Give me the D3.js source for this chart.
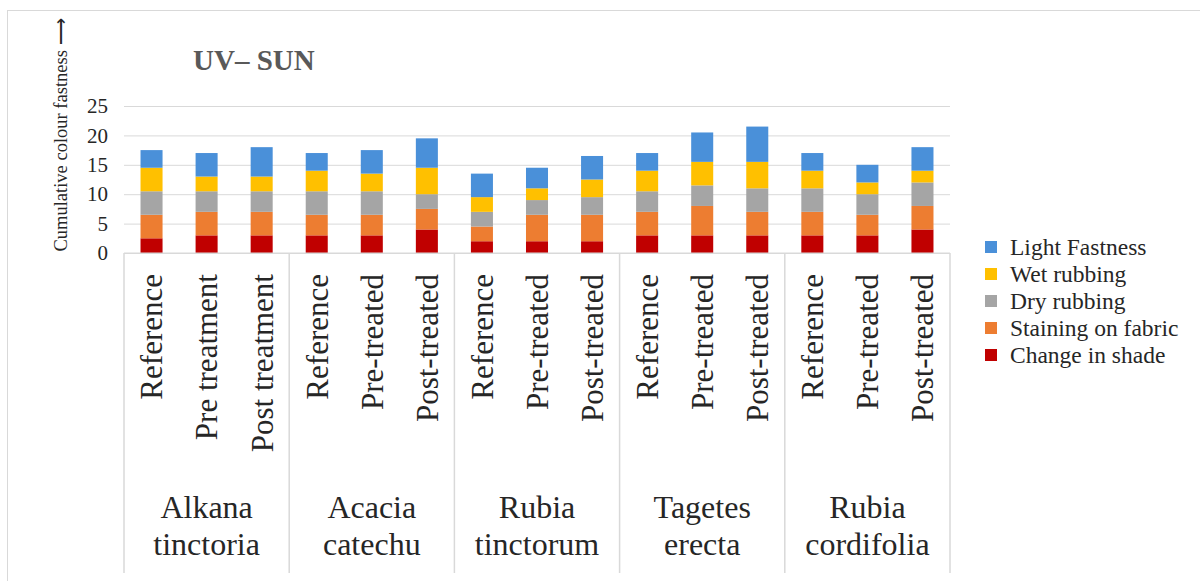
<!DOCTYPE html>
<html>
<head>
<meta charset="utf-8">
<script src="https://cdn.jsdelivr.net/npm/d3@7"></script>
<style>
    body { margin: 0; background: #fff; }
    svg text { font-family: "Liberation Serif", "Times New Roman", serif; }
</style>
</head>
<body>
<div id="chart"></div>
<script>
// data
const groups = ["Alkana tinctoria", "Acacia catechu", "Rubia tinctorum", "Tagetes erecta", "Rubia cordifolia"];
const treatments = [
    ["Reference", "Pre treatment", "Post treatment"],
    ["Reference", "Pre-treated", "Post-treated"],
    ["Reference", "Pre-treated", "Post-treated"],
    ["Reference", "Pre-treated", "Post-treated"],
    ["Reference", "Pre-treated", "Post-treated"],
];
const seriesNames = ["Change in shade", "Staining on fabric", "Dry rubbing", "Wet rubbing", "Light Fastness"];
const seriesColors = ["#c00000", "#ed7d31", "#a5a5a5", "#ffc000", "#4a90d9"];

// one value per bar, in group order
const changeInShade = [2.5, 3, 3, 3, 3, 4, 2, 2, 2, 3, 3, 3, 3, 3, 4];
const stainingOnFabric = [4, 4, 4, 3.5, 3.5, 3.5, 2.5, 4.5, 4.5, 4, 5, 4, 4, 3.5, 4];
const dryRubbing = [4, 3.5, 3.5, 4, 4, 2.5, 2.5, 2.5, 3, 3.5, 3.5, 4, 4, 3.5, 4];
const wetRubbing = [4, 2.5, 2.5, 3.5, 3, 4.5, 2.5, 2, 3, 3.5, 4, 4.5, 3, 2, 2];
const lightFastness = [3, 4, 5, 3, 4, 5, 4, 3.5, 4, 3, 5, 6, 3, 3, 4];

const yTicks = [0, 5, 10, 15, 20, 25];

const width = 1200, height = 581;
const plot = { left: 124, right: 950, top: 106, bottom: 253 };

const svg = d3.select("#chart").append("svg")
    .attr("width", width)
    .attr("height", height);

// outer frame
svg.append("rect")
    .attr("x", 7.5).attr("y", 10.5)
    .attr("width", 1200).attr("height", 600)
    .attr("fill", "none")
    .attr("stroke", "#d9d9d9");

const rows = [];
groups.forEach((g, gi) => {
    treatments[gi].forEach((t, ti) => {
        const i = gi * 3 + ti;
        rows.push({
            group: g, treatment: t,
            "Change in shade": changeInShade[i],
            "Staining on fabric": stainingOnFabric[i],
            "Dry rubbing": dryRubbing[i],
            "Wet rubbing": wetRubbing[i],
            "Light Fastness": lightFastness[i],
        });
    });
});

const x0 = d3.scaleBand().domain(groups).range([plot.left, plot.right]);
const x1 = d3.scaleBand().domain([0, 1, 2]).range([0, x0.bandwidth()]).paddingInner(0.6).paddingOuter(0.3);
const barX = (d) => x0(d.group) + x1(treatments[groups.indexOf(d.group)].indexOf(d.treatment));

const y = d3.scaleLinear().domain([0, 25]).range([plot.bottom, plot.top]);
const color = d3.scaleOrdinal().domain(seriesNames).range(seriesColors);

// gridlines
svg.append("g")
    .attr("transform", `translate(${plot.left},0)`)
    .call(d3.axisLeft(y).tickValues(yTicks).tickSize(-(plot.right - plot.left)).tickFormat(""))
    .call((g) => g.select(".domain").remove())
    .call((g) => g.selectAll("line").attr("stroke", "#d9d9d9"));

// y tick labels
svg.append("g")
    .attr("transform", `translate(${plot.left - 16},0)`)
    .call(d3.axisLeft(y).tickValues(yTicks).tickSize(0).tickPadding(0))
    .call((g) => g.select(".domain").remove())
    .call((g) => g.selectAll("text")
        .attr("font-family", "Liberation Serif")
        .attr("font-size", 21)
        .attr("fill", "#262626"));

// stacked bars
const stacked = d3.stack().keys(seriesNames)(rows);
svg.append("g")
    .selectAll("g")
    .data(stacked)
    .join("g")
    .attr("fill", (s) => color(s.key))
    .selectAll("rect")
    .data((s) => s)
    .join("rect")
    .attr("x", (d) => barX(d.data))
    .attr("y", (d) => y(d[1]))
    .attr("width", x1.bandwidth())
    .attr("height", (d) => y(d[0]) - y(d[1]));

// category separators
const bounds = groups.map((g) => x0(g)).concat([plot.right]);
svg.append("g")
    .selectAll("line")
    .data(bounds)
    .join("line")
    .attr("x1", (d) => d).attr("x2", (d) => d)
    .attr("y1", plot.bottom).attr("y2", 573)
    .attr("stroke", "#d9d9d9")
    .attr("stroke-width", 1.5);

svg.append("line")
    .attr("x1", plot.left).attr("x2", plot.right)
    .attr("y1", plot.bottom).attr("y2", plot.bottom)
    .attr("stroke", "#d9d9d9");

// treatment labels (rotated)
svg.append("g")
    .selectAll("text")
    .data(rows)
    .join("text")
    .attr("transform", (d) => `translate(${barX(d) + x1.bandwidth() / 2},274) rotate(-90)`)
    .attr("text-anchor", "end")
    .attr("dy", "0.35em")
    .attr("font-size", 31)
    .attr("fill", "#262626")
    .text((d) => d.treatment);

// group labels
svg.append("g")
    .selectAll("text")
    .data(groups)
    .join("text")
    .attr("text-anchor", "middle")
    .attr("font-size", 32)
    .attr("fill", "#262626")
    .each(function (g) {
        const words = g.split(" ");
        const t = d3.select(this);
        words.forEach((w, i) => {
            t.append("tspan")
                .attr("x", x0(g) + x0.bandwidth() / 2)
                .attr("y", 518 + i * 37)
                .text(w);
        });
    });

// y axis title
svg.append("text")
    .attr("transform", "translate(61,135) rotate(-90)")
    .attr("text-anchor", "middle")
    .attr("dy", "0.35em")
    .attr("font-size", 18.5)
    .attr("fill", "#262626")
    .text("Cumulative colour fastness ⟶");

// chart title
svg.append("text")
    .attr("x", 193).attr("y", 70)
    .attr("font-size", 29)
    .attr("font-weight", "bold")
    .attr("fill", "#595959")
    .text("UV– SUN");

// legend, top to bottom
const legend = svg.append("g")
    .selectAll("g")
    .data(seriesNames.slice().reverse())
    .join("g")
    .attr("transform", (d, i) => `translate(985,${247 + i * 27})`);

legend.append("rect")
    .attr("x", 0).attr("y", -6)
    .attr("width", 12).attr("height", 12)
    .attr("fill", (d) => color(d));

legend.append("text")
    .attr("x", 25)
    .attr("dy", "0.35em")
    .attr("font-size", 23.5)
    .attr("fill", "#262626")
    .text((d) => d);
</script>
</body>
</html>
